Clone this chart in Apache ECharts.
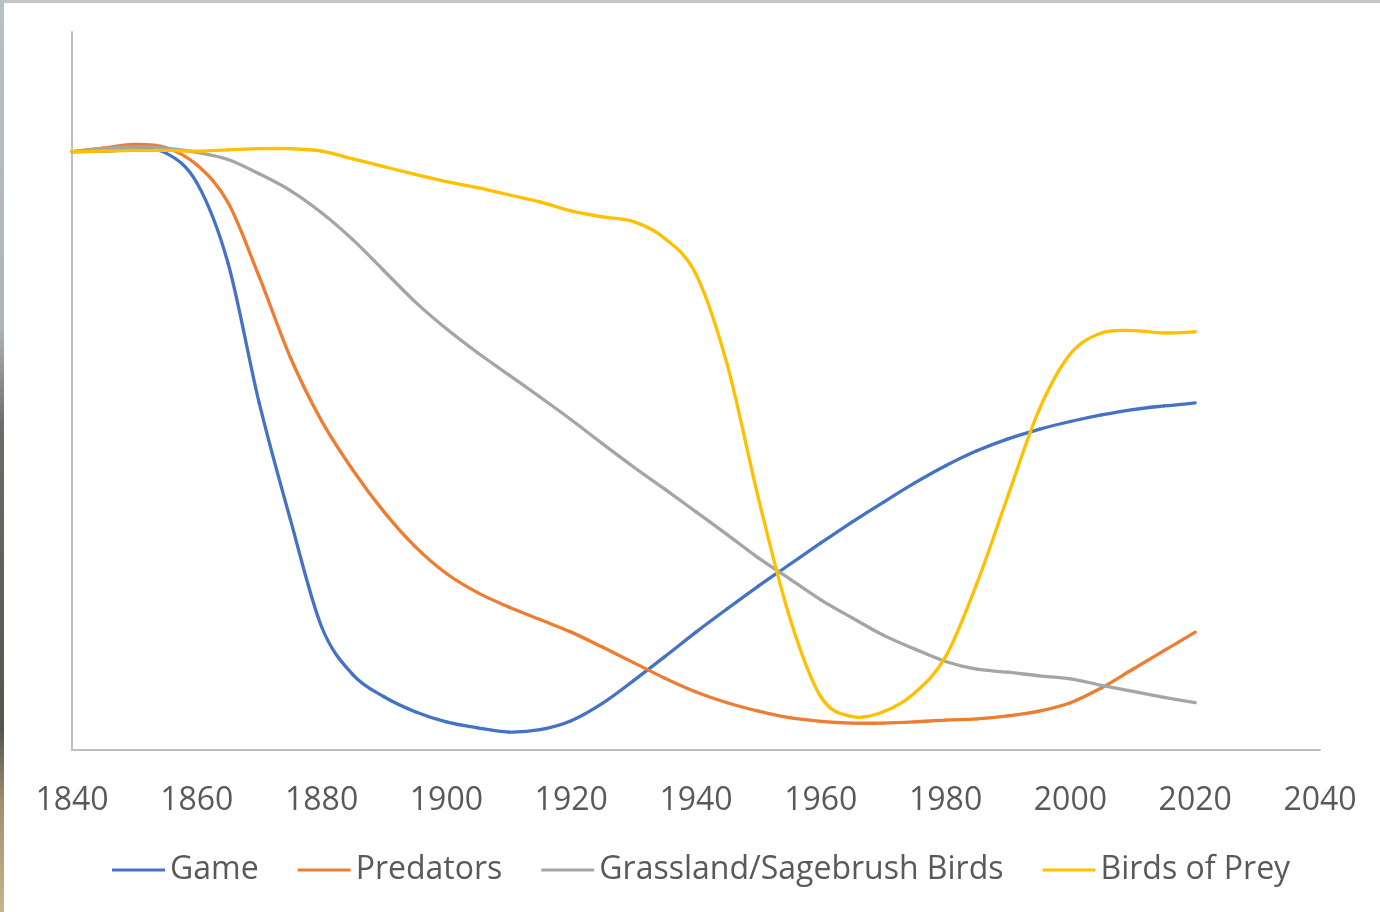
<!DOCTYPE html>
<html>
<head>
<meta charset="utf-8">
<script src="https://cdn.jsdelivr.net/npm/echarts@6/dist/echarts.min.js"></script>
<style>
html,body{margin:0;padding:0;background:#fff;}
#chart{width:1380px;height:912px;}
</style>
</head>
<body>
<div id="chart"></div>
<script>
// ---- data ----
const xTicks = [1840, 1860, 1880, 1900, 1920, 1940, 1960, 1980, 2000, 2020, 2040];

const seriesNames = ['Game', 'Predators', 'Grassland/Sagebrush Birds', 'Birds of Prey'];

const years = [1840,1845,1850,1855,1860,1865,1870,1875,1880,1885,1890,1895,1900,1905,1910,1915,1920,1925,1930,1935,1940,1945,1950,1955,1960,1965,1970,1975,1980,1985,1990,1995,2000,2005,2010,2015,2020];

const gameValues  = [100,100.1,100.3,99.8,94.8,81.4,58.0,38.5,20.6,12.6,8.9,6.4,4.7,3.7,3.0,3.4,4.9,7.8,11.6,15.6,19.7,23.6,27.4,31.0,34.6,38.1,41.4,44.6,47.5,50.0,52.0,53.6,54.9,56.0,56.9,57.5,58.0];

const predValues  = [100,100.6,101.2,100.7,97.8,91.5,79.1,65.6,55.0,46.8,39.8,34.0,29.5,26.3,23.9,21.8,19.7,17.2,14.6,12.0,9.7,7.9,6.5,5.4,4.8,4.5,4.5,4.7,5.0,5.2,5.7,6.5,7.9,10.4,13.5,16.6,19.7];

const grassValues = [100,100.5,100.8,100.6,99.9,98.7,96.3,93.5,89.8,85.3,80.1,74.9,70.4,66.4,62.7,59.0,55.2,51.2,47.3,43.6,39.8,36.0,32.1,28.6,25.1,22.1,19.2,16.9,14.8,13.5,13.0,12.4,11.9,10.8,9.8,8.8,7.9];

const preyValues  = [100,100.1,100.2,100.2,100.1,100.3,100.5,100.5,100.1,98.8,97.5,96.2,95.0,94.0,92.8,91.6,90.1,89.1,88.3,85.5,79.5,64.4,42.1,22.2,8.9,5.6,6.4,9.5,15.6,27.8,42.5,56.9,66.2,69.7,70.1,69.7,69.9];

const colors = ['#4472C4', '#ED7D31', '#A5A5A5', '#FFC000'];

function pairs(xs, ys) { return xs.map((x, i) => [x, ys[i]]); }

const allData = [
  pairs(years, gameValues),
  pairs(years, predValues),
  pairs(years, grassValues),
  pairs(years, preyValues)
];

// Smooth (Catmull-Rom style) segment from point k to k+1, positioned through the axes
function smoothSegment(si) {
  return function (params, api) {
    const pts = allData[si];
    const k = params.dataIndex;
    if (k >= pts.length - 1) return null;
    const n = pts.length;
    const P = j => api.coord(pts[Math.max(0, Math.min(n - 1, j))]);
    const p0 = P(k - 1), p1 = P(k), p2 = P(k + 1), p3 = P(k + 2);
    const t = 1 / 6;
    return {
      type: 'bezierCurve',
      shape: {
        x1: p1[0], y1: p1[1], x2: p2[0], y2: p2[1],
        cpx1: p1[0] + (p2[0] - p0[0]) * t, cpy1: p1[1] + (p2[1] - p0[1]) * t,
        cpx2: p2[0] - (p3[0] - p1[0]) * t, cpy2: p2[1] - (p3[1] - p1[1]) * t
      },
      style: {stroke: colors[si], lineWidth: 3.3, fill: 'none', lineCap: 'round'}
    };
  };
}

const chart = echarts.init(document.getElementById('chart'), null, {renderer: 'canvas'});
const FONT = '"Open Sans", "Noto Sans", sans-serif';

chart.setOption({
  backgroundColor: '#ffffff',
  animation: false,
  color: colors,
  textStyle: {fontFamily: FONT},
  graphic: [
    {type: 'rect', left: 0, top: 0, shape: {width: 1380, height: 3}, style: {fill: '#c4c5c8'}, z: 100},
    {type: 'rect', left: 0, top: 0, shape: {width: 4, height: 912},
      style: {fill: new echarts.graphic.LinearGradient(0, 0, 0, 1, [
        {offset: 0, color: '#b9bfc8'},
        {offset: 0.36, color: '#b0b4b8'},
        {offset: 0.47, color: '#6a6c68'},
        {offset: 0.8, color: '#55554f'},
        {offset: 0.88, color: '#a08f70'},
        {offset: 1, color: '#c8b48c'}
      ])}, z: 100}
  ],
  grid: {left: 72, right: 60, top: 32, bottom: 162, containLabel: false},
  legend: {
    left: 112,
    top: 852,
    padding: 0,
    icon: 'rect',
    itemWidth: 53,
    itemHeight: 3,
    itemGap: 39,
    textStyle: {fontFamily: FONT, fontSize: 32, color: '#595959', lineHeight: 36},
    data: seriesNames.map((name, i) => ({name: name, itemStyle: {color: colors[i]}}))
  },
  xAxis: {
    type: 'value',
    min: 1840,
    max: 2040,
    interval: 20,
    axisLine: {show: true, lineStyle: {color: '#bfbfbf', width: 2}},
    axisTick: {show: false},
    splitLine: {show: false},
    axisLabel: {
      fontFamily: FONT, fontSize: 32, color: '#595959', margin: 35,
      formatter: v => (xTicks.indexOf(v) >= 0 ? String(v) : '')
    }
  },
  yAxis: {
    type: 'value',
    min: 0,
    max: 120,
    axisLine: {show: true, lineStyle: {color: '#bfbfbf', width: 2}},
    axisTick: {show: false},
    axisLabel: {show: false},
    splitLine: {show: false}
  },
  series: seriesNames.map((name, i) => ({
    name: name,
    type: 'custom',
    data: allData[i],
    encode: {x: 0, y: 1},
    renderItem: smoothSegment(i),
    itemStyle: {color: colors[i]},
    z: 2 + i
  }))
});
</script>
</body>
</html>
